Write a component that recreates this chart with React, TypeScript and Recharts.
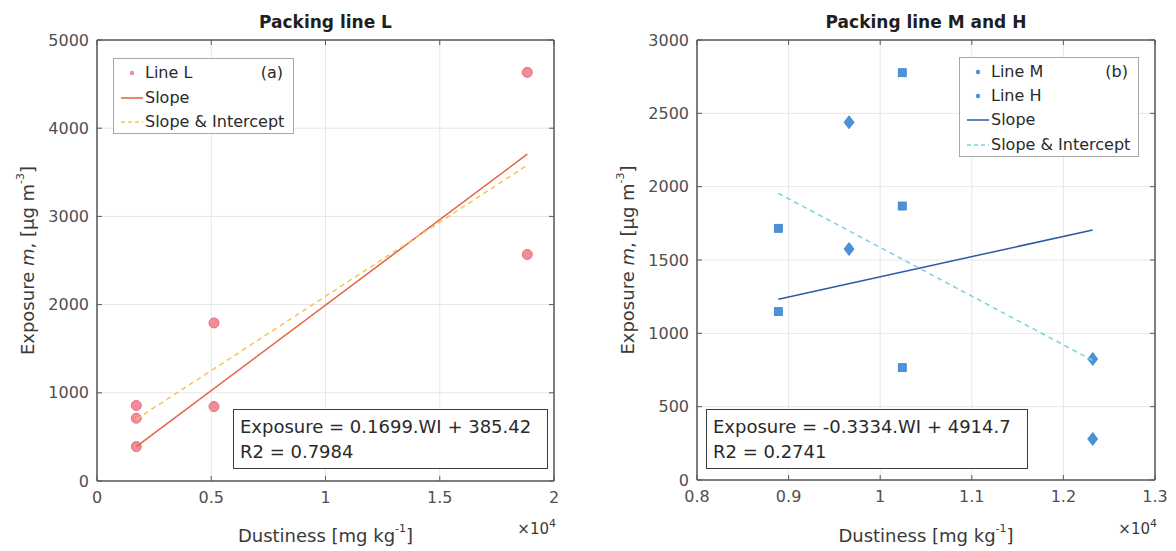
import React from 'react';
import { ScatterChart, Scatter, XAxis, YAxis, CartesianGrid, ReferenceArea } from 'recharts';

const FONT = '"DejaVu Sans", "Liberation Sans", sans-serif';

// ---------- Panel (a): Packing line L ----------
const titleA = 'Packing line L';
const lineLX = [1720, 1720, 1720, 5120, 5120, 18830, 18830];
const lineLY = [856, 712, 390, 1792, 844, 4633, 2568];
const slopeAX = [1720, 18830];
const slopeAY = [390, 3705];
const interceptAX = [1720, 18830];
const interceptAY = [700, 3580];
const xTicksA = [0, 5000, 10000, 15000, 20000];
const yTicksA = [0, 1000, 2000, 3000, 4000, 5000];
const eqA = ['Exposure = 0.1699.WI + 385.42', 'R2 = 0.7984'];

// ---------- Panel (b): Packing line M and H ----------
const titleB = 'Packing line M and H';
const lineMX = [10241, 10241, 8888, 8888, 10241];
const lineMY = [2777, 1868, 1716, 1148, 766];
const lineHX = [9660, 9660, 12320, 12320];
const lineHY = [2439, 1575, 825, 280];
const slopeBX = [8888, 12320];
const slopeBY = [1232, 1705];
const interceptBX = [8888, 12320];
const interceptBY = [1955, 815];
const xTicksB = [8000, 9000, 10000, 11000, 12000, 13000];
const yTicksB = [0, 500, 1000, 1500, 2000, 2500, 3000];
const eqB = ['Exposure = -0.3334.WI + 4914.7', 'R2 = 0.2741'];

const pts = (xs: number[], ys: number[]) => xs.map((x, i) => ({ x, y: ys[i] }));

const C_L = '#f28c98';
const C_L_EDGE = '#e66f7d';
const C_SLOPE_A = '#e2613f';
const C_INT_A = '#f3c35a';
const C_B = '#4b92da';
const C_B_EDGE = '#3c80c8';
const C_SLOPE_B = '#2c5aa6';
const C_INT_B = '#7fd0e2';
const AXIS = '#595959';
const TICKTXT = '#4f4f4f';

const none = () => <g />;
const circleShape = (p: any) => (
  <circle cx={p.cx} cy={p.cy} r={5} fill={C_L} stroke={C_L_EDGE} strokeWidth={1} />
);
const squareShape = (p: any) => (
  <rect x={p.cx - 4} y={p.cy - 4} width={8} height={8} fill={C_B} stroke={C_B_EDGE} strokeWidth={0.8} />
);
const diamondShape = (p: any) => (
  <polygon
    points={`${p.cx},${p.cy - 6.5} ${p.cx + 5},${p.cy} ${p.cx},${p.cy + 6.5} ${p.cx - 5},${p.cy}`}
    fill={C_B}
    stroke={C_B_EDGE}
    strokeWidth={0.8}
  />
);

const tickStyle = { fontFamily: FONT, fontSize: 16, fill: TICKTXT };
const hiddenTick = { fontFamily: FONT, fontSize: 1, fill: 'none' };

const xLabel = (props: any) => {
  const vb = props.viewBox;
  const cx = vb.x + vb.width / 2;
  const right = vb.x + vb.width + 2;
  return (
    <g>
      <text x={cx} y={535} textAnchor="middle" dominantBaseline="central" fontFamily={FONT} fontSize={18} fill="#3a3a3a">
        Dustiness [mg kg
        <tspan dy={-7} fontSize={11}>-1</tspan>
        <tspan dy={7}>]</tspan>
      </text>
      <text x={right} y={534} textAnchor="end" fontFamily={FONT} fontSize={15} fill="#3a3a3a">
        ×10
        <tspan dy={-7} fontSize={11}>4</tspan>
      </text>
    </g>
  );
};

const yLabelAt = (x: number) => (props: any) => {
  const vb = props.viewBox;
  const cy = vb.y + vb.height / 2;
  return (
    <text
      x={x}
      y={cy}
      transform={`rotate(-90, ${x}, ${cy})`}
      textAnchor="middle"
      dominantBaseline="central"
      fontFamily={FONT}
      fontSize={18}
      fill="#3a3a3a"
    >
      Exposure <tspan fontStyle="italic">m</tspan>, [μg m
      <tspan dy={-7} fontSize={11}>-3</tspan>
      <tspan dy={7}>]</tspan>
    </text>
  );
};

type SeriesDef = {
  name: string;
  data: { x: number; y: number }[];
  shape?: any;
  line?: any;
};

type PanelProps = {
  left: number;
  width: number;
  margin: { top: number; right: number; bottom: number; left: number };
  xDomain: [number, number];
  yDomain: [number, number];
  xTicks: number[];
  yTicks: number[];
  xFmt: (v: number) => string;
  yLabelX: number;
  series: SeriesDef[];
};

const Panel = (p: PanelProps) => (
  <div style={{ position: 'absolute', left: p.left, top: 0 }}>
    <ScatterChart width={p.width} height={551} margin={p.margin}>
      <CartesianGrid xAxisId="b" yAxisId="l" stroke="#e6e6e6" strokeWidth={1} />
      <XAxis
        xAxisId="b"
        dataKey="x"
        type="number"
        domain={p.xDomain}
        ticks={p.xTicks}
        tickFormatter={p.xFmt}
        allowDataOverflow
        height={30}
        tickSize={-5}
        tickMargin={16}
        tick={tickStyle}
        stroke={AXIS}
        axisLine={{ stroke: AXIS }}
        tickLine={{ stroke: AXIS }}
        label={xLabel}
      />
      <XAxis
        xAxisId="t"
        orientation="top"
        dataKey="x"
        type="number"
        domain={p.xDomain}
        ticks={p.xTicks}
        allowDataOverflow
        height={5}
        tickSize={-5}
        tick={hiddenTick}
        stroke={AXIS}
        axisLine={{ stroke: AXIS }}
        tickLine={{ stroke: AXIS }}
      />
      <YAxis
        yAxisId="l"
        dataKey="y"
        type="number"
        domain={p.yDomain}
        ticks={p.yTicks}
        allowDataOverflow
        width={60}
        tickSize={-5}
        tickMargin={13}
        tick={tickStyle}
        stroke={AXIS}
        axisLine={{ stroke: AXIS }}
        tickLine={{ stroke: AXIS }}
        label={yLabelAt(p.yLabelX)}
      />
      <YAxis
        yAxisId="r"
        orientation="right"
        dataKey="y"
        type="number"
        domain={p.yDomain}
        ticks={p.yTicks}
        allowDataOverflow
        width={5}
        tickSize={-5}
        tick={hiddenTick}
        stroke={AXIS}
        axisLine={{ stroke: AXIS }}
        tickLine={{ stroke: AXIS }}
      />
      <Scatter
        name="frame"
        xAxisId="t"
        yAxisId="r"
        data={p.series[0].data}
        shape={none}
        legendType="none"
        isAnimationActive={false}
      />
      <ReferenceArea
        xAxisId="b"
        yAxisId="l"
        x1={p.xDomain[0]}
        x2={p.xDomain[1]}
        y1={p.yDomain[0]}
        y2={p.yDomain[1]}
        fill="none"
        fillOpacity={0}
        stroke={AXIS}
        strokeWidth={1}
        ifOverflow="visible"
      />
      {p.series.map((s) => (
        <Scatter
          key={s.name}
          name={s.name}
          xAxisId="b"
          yAxisId="l"
          data={s.data}
          shape={s.shape || none}
          line={s.line}
          lineType="joint"
          isAnimationActive={false}
        />
      ))}
    </ScatterChart>
  </div>
);

const LegendRow = ({ top, kind, color, dash, label, extra }: any) => (
  <div style={{ position: 'absolute', left: 0, top, height: 24, width: '100%' }}>
    <svg style={{ position: 'absolute', left: 6, top: 0 }} width={24} height={24}>
      {kind === 'dot' ? (
        <circle cx={12} cy={12} r={2.2} fill={color} />
      ) : (
        <line x1={1} x2={23} y1={12} y2={12} stroke={color} strokeWidth={1.5} strokeDasharray={dash ? '4 3' : undefined} />
      )}
    </svg>
    <span style={{ position: 'absolute', left: 31, top: 0, lineHeight: '24px', whiteSpace: 'nowrap' }}>{label}</span>
    {extra ? (
      <span style={{ position: 'absolute', right: 10, top: 0, lineHeight: '24px' }}>{extra}</span>
    ) : null}
  </div>
);

const EqBox = ({ left, top, width, lines }: any) => (
  <div
    style={{
      position: 'absolute',
      left,
      top,
      width,
      height: 60,
      boxSizing: 'border-box',
      border: '1px solid #3d3d3d',
      background: '#fff',
      fontFamily: FONT,
      fontSize: 18,
      color: '#2a2a2a',
      padding: '4px 0 0 6px',
      lineHeight: '25px',
      whiteSpace: 'nowrap',
    }}
  >
    <div>{lines[0]}</div>
    <div>{lines[1]}</div>
  </div>
);

const Title = ({ cx, text }: any) => (
  <div
    style={{
      position: 'absolute',
      left: cx - 200,
      width: 400,
      top: 10,
      textAlign: 'center',
      fontFamily: FONT,
      fontWeight: 'bold',
      fontSize: 17,
      lineHeight: '24px',
      color: '#1f1f1f',
    }}
  >
    {text}
  </div>
);

export default function App() {
  const fmt = (v: number) => String(Math.round((v / 10000) * 10) / 10);
  return (
    <div style={{ position: 'absolute', left: 0, top: 0, width: 1176, height: 551, background: '#fff', overflow: 'hidden' }}>
      <Panel
        left={0}
        width={590}
        margin={{ top: 35, right: 31, bottom: 40, left: 37 }}
        xDomain={[0, 20000]}
        yDomain={[0, 5000]}
        xTicks={xTicksA}
        yTicks={yTicksA}
        xFmt={fmt}
        yLabelX={27}
        series={[
          { name: 'Line L', data: pts(lineLX, lineLY), shape: circleShape },
          { name: 'Slope', data: pts(slopeAX, slopeAY), line: { stroke: C_SLOPE_A, strokeWidth: 1.5 } },
          {
            name: 'Slope & Intercept',
            data: pts(interceptAX, interceptAY),
            line: { stroke: C_INT_A, strokeWidth: 1.5, strokeDasharray: '5 4' },
          },
        ]}
      />
      <Panel
        left={590}
        width={586}
        margin={{ top: 35, right: 16, bottom: 41, left: 47 }}
        xDomain={[8000, 13000]}
        yDomain={[0, 3000]}
        xTicks={xTicksB}
        yTicks={yTicksB}
        xFmt={fmt}
        yLabelX={37}
        series={[
          { name: 'Line M', data: pts(lineMX, lineMY), shape: squareShape },
          { name: 'Line H', data: pts(lineHX, lineHY), shape: diamondShape },
          { name: 'Slope', data: pts(slopeBX, slopeBY), line: { stroke: C_SLOPE_B, strokeWidth: 1.5 } },
          {
            name: 'Slope & Intercept',
            data: pts(interceptBX, interceptBY),
            line: { stroke: C_INT_B, strokeWidth: 1.5, strokeDasharray: '5 4' },
          },
        ]}
      />

      <Title cx={325.5} text={titleA} />
      <Title cx={926} text={titleB} />

      {/* Legend (a) */}
      <div
        style={{
          position: 'absolute',
          left: 113,
          top: 58,
          width: 181,
          height: 76,
          boxSizing: 'border-box',
          border: '1px solid #a8a8a8',
          background: '#fff',
          fontFamily: FONT,
          fontSize: 16,
          color: '#2a2a2a',
        }}
      >
        <LegendRow top={2} kind="dot" color={C_L} label="Line L" extra="(a)" />
        <LegendRow top={26.5} kind="line" color={C_SLOPE_A} label="Slope" />
        <LegendRow top={51} kind="line" color={C_INT_A} dash label="Slope & Intercept" />
      </div>

      {/* Legend (b) */}
      <div
        style={{
          position: 'absolute',
          left: 959,
          top: 57,
          width: 180,
          height: 100,
          boxSizing: 'border-box',
          border: '1px solid #a8a8a8',
          background: '#fff',
          fontFamily: FONT,
          fontSize: 16,
          color: '#2a2a2a',
        }}
      >
        <LegendRow top={2} kind="dot" color={C_B} label="Line M" extra="(b)" />
        <LegendRow top={26} kind="dot" color={C_B} label="Line H" />
        <LegendRow top={50} kind="line" color={C_SLOPE_B} label="Slope" />
        <LegendRow top={74.5} kind="line" color={C_INT_B} dash label="Slope & Intercept" />
      </div>

      <EqBox left={233} top={409} width={315} lines={eqA} />
      <EqBox left={706} top={409} width={322} lines={eqB} />
    </div>
  );
}
